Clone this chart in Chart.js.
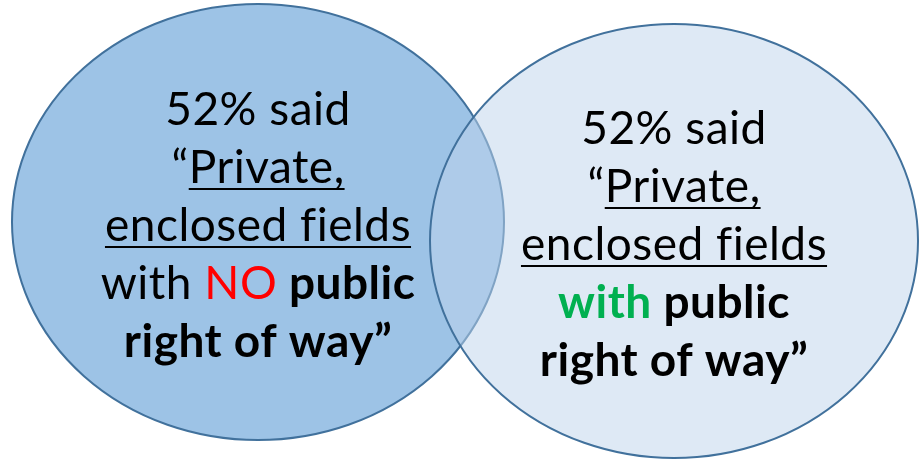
<!DOCTYPE html>
<html>
<head>
<meta charset="utf-8">
<script src="https://cdn.jsdelivr.net/npm/chart.js@4"></script>
<style>
  body { margin: 0; background: #fff; }
</style>
</head>
<body>
<canvas id="venn" width="919" height="461"></canvas>
<script>
// two survey answers, shown as overlapping sets
var percentSaid = [52, 52];
var centerX = [258, 674];
var centerY = [222, 241];
var radiusX = [246, 244];
var radiusY = [218, 217];

// label text, one list of runs per line: [text, style]
var labelLines = [
    [
        [[percentSaid[0] + '% said', 'plain']],
        [['\u201C', 'plain'], ['Private,', 'under']],
        [['enclosed fields', 'under']],
        [['with ', 'plain'], ['NO', 'red'], [' public', 'bold']],
        [['right of way\u201D', 'bold']]
    ],
    [
        [[percentSaid[1] + '% said', 'plain']],
        [['\u201C', 'plain'], ['Private,', 'under']],
        [['enclosed fields', 'under']],
        [['with', 'green'], [' public', 'bold']],
        [['right of way\u201D', 'bold']]
    ]
];

var fontFamily = 'Lato, sans-serif';
var fontSize = 46;
var lineGap = 58;
var firstBaseline = -97;

var runStyles = {
    plain: { weight: 'normal', color: '#000000' },
    under: { weight: 'normal', color: '#000000', underline: true },
    bold:  { weight: 'bold',   color: '#000000' },
    red:   { weight: 'normal', color: '#ff0000' },
    green: { weight: 'bold',   color: '#00b050' }
};

var fills = ['#9dc3e6', 'rgba(190, 212, 235, 0.51)'];
var outline = '#41719c';

function ellipseBox(chart, i) {
    var x = chart.scales.x, y = chart.scales.y;
    var px = x.getPixelForValue(centerX[i]);
    var py = y.getPixelForValue(centerY[i]);
    return {
        px: px,
        py: py,
        rx: Math.abs(x.getPixelForValue(centerX[i] + radiusX[i]) - px),
        ry: Math.abs(y.getPixelForValue(centerY[i] + radiusY[i]) - py)
    };
}

var vennPlugin = {
    id: 'vennPlugin',
    beforeDatasetsDraw: function (chart) {
        var ctx = chart.ctx;
        ctx.save();
        for (var i = 0; i < centerX.length; i++) {
            var b = ellipseBox(chart, i);
            ctx.beginPath();
            ctx.ellipse(b.px, b.py, b.rx, b.ry, 0, 0, Math.PI * 2);
            ctx.fillStyle = fills[i];
            ctx.fill();
            ctx.lineWidth = 2;
            ctx.strokeStyle = outline;
            ctx.stroke();
        }
        ctx.restore();
    },
    afterDatasetsDraw: function (chart) {
        var ctx = chart.ctx;
        ctx.save();
        ctx.textAlign = 'left';
        ctx.textBaseline = 'alphabetic';
        ctx.letterSpacing = '0.5px';
        ctx.fontVariantLigatures = 'none';
        for (var i = 0; i < labelLines.length; i++) {
            var b = ellipseBox(chart, i);
            labelLines[i].forEach(function (runs, n) {
                var baseY = b.py + firstBaseline + n * lineGap;
                var widths = runs.map(function (r) {
                    ctx.font = runStyles[r[1]].weight + ' ' + fontSize + 'px ' + fontFamily;
                    return ctx.measureText(r[0]).width;
                });
                var total = widths.reduce(function (a, w) { return a + w; }, 0);
                var cursor = b.px - total / 2;
                runs.forEach(function (r, k) {
                    var st = runStyles[r[1]];
                    ctx.font = st.weight + ' ' + fontSize + 'px ' + fontFamily;
                    ctx.fillStyle = st.color;
                    ctx.fillText(r[0], cursor, baseY);
                    if (st.underline) {
                        ctx.fillRect(cursor, baseY + 5, widths[k], 2);
                    }
                    cursor += widths[k];
                });
            });
        }
        ctx.restore();
    }
};

new Chart(document.getElementById('venn'), {
    type: 'scatter',
    data: {
        datasets: [{
            data: centerX.map(function (cx, i) { return { x: cx, y: centerY[i] }; }),
            pointRadius: 0
        }]
    },
    options: {
        responsive: false,
        animation: false,
        layout: { padding: 0 },
        plugins: { legend: { display: false }, tooltip: { enabled: false } },
        scales: {
            x: { type: 'linear', min: 0, max: 919, display: false },
            y: { type: 'linear', min: 0, max: 461, reverse: true, display: false }
        }
    },
    plugins: [vennPlugin]
});
</script>
</body>
</html>
